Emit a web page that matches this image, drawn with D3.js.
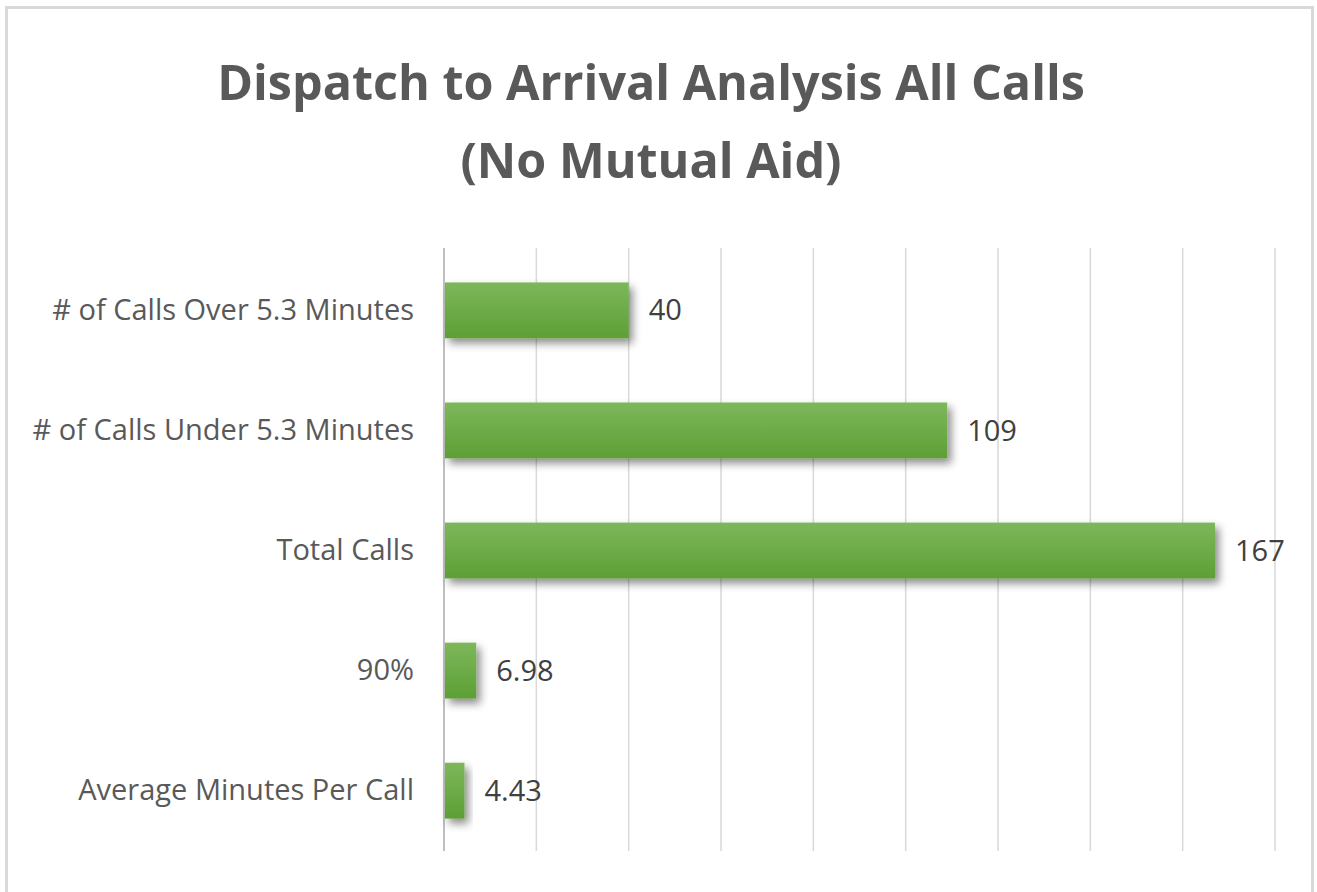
<!DOCTYPE html>
<html>
<head>
<meta charset="utf-8">
<script src="https://cdn.jsdelivr.net/npm/d3@7"></script>
<style>
    html, body { margin: 0; padding: 0; background: #fff; }
    svg { display: block; }
</style>
</head>
<body>
<svg id="chart" width="1317" height="892"></svg>
<script>
const categories = [
    '# of Calls Over 5.3 Minutes',
    '# of Calls Under 5.3 Minutes',
    'Total Calls',
    '90%',
    'Average Minutes Per Call'
];
const values = [40, 109, 167, 6.98, 4.43];
const valueLabels = ['40', '109', '167', '6.98', '4.43'];
const titleLines = ['Dispatch to Arrival Analysis All Calls', '(No Mutual Aid)'];
const xTicks = [0, 20, 40, 60, 80, 100, 120, 140, 160, 180];

const width = 1317;
const height = 892;
const margin = { top: 250, left: 444, right: 42, bottom: 41 };
const font = "'Open Sans', 'Noto Sans', sans-serif";

const svg = d3.select('#chart');

// chart frame
svg.append('rect')
    .attr('x', 6.5)
    .attr('y', 7.5)
    .attr('width', 1306)
    .attr('height', 900)
    .attr('fill', '#fff')
    .attr('stroke', '#d9d9d9')
    .attr('stroke-width', 3);

const defs = svg.append('defs');

const grad = defs.append('linearGradient')
    .attr('id', 'barFill')
    .attr('x1', 0).attr('y1', 0)
    .attr('x2', 0).attr('y2', 1);
grad.append('stop').attr('offset', '0%').attr('stop-color', '#7db75b');
grad.append('stop').attr('offset', '100%').attr('stop-color', '#5d9f35');

const shadow = defs.append('filter')
    .attr('id', 'shadow')
    .attr('x', '-20%').attr('y', '-30%')
    .attr('width', '160%').attr('height', '180%');
shadow.append('feDropShadow')
    .attr('dx', 4)
    .attr('dy', 5)
    .attr('stdDeviation', 4)
    .attr('flood-color', '#000')
    .attr('flood-opacity', 0.45);

const x = d3.scaleLinear()
    .domain([0, 180])
    .range([margin.left, width - margin.right]);

const y = d3.scaleBand()
    .domain(categories)
    .range([margin.top, height - margin.bottom])
    .paddingInner(0.535)
    .paddingOuter(0.27);

// gridlines
svg.append('g')
    .selectAll('line')
    .data(xTicks.slice(1))
    .join('line')
    .attr('x1', d => x(d))
    .attr('x2', d => x(d))
    .attr('y1', 248)
    .attr('y2', 851)
    .attr('stroke', '#d9d9d9')
    .attr('stroke-width', 1.5);

// value axis baseline
svg.append('line')
    .attr('x1', x(0))
    .attr('x2', x(0))
    .attr('y1', 248)
    .attr('y2', 851)
    .attr('stroke', '#bfbfbf')
    .attr('stroke-width', 2);

// title
svg.append('g')
    .selectAll('text')
    .data(titleLines)
    .join('text')
    .attr('x', 651)
    .attr('y', (d, i) => 100 + i * 78)
    .attr('text-anchor', 'middle')
    .attr('font-family', font)
    .attr('font-weight', 'bold')
    .attr('font-size', 48.5)
    .attr('fill', '#595959')
    .text(d => d);

// category labels
const yAxis = d3.axisLeft(y).tickSize(0).tickPadding(30);
svg.append('g')
    .attr('transform', `translate(${x(0)},0)`)
    .call(yAxis)
    .call(g => g.select('.domain').remove())
    .selectAll('text')
    .attr('font-family', font)
    .attr('font-size', 29)
    .attr('fill', '#595959');

// bars
svg.append('g')
    .selectAll('rect')
    .data(values)
    .join('rect')
    .attr('x', x(0) + 1)
    .attr('y', (d, i) => y(categories[i]))
    .attr('width', d => x(d) - x(0) - 1)
    .attr('height', y.bandwidth())
    .attr('fill', 'url(#barFill)')
    .attr('filter', 'url(#shadow)');

// value labels
svg.append('g')
    .selectAll('text')
    .data(values)
    .join('text')
    .attr('x', d => x(d) + 20)
    .attr('y', (d, i) => y(categories[i]) + y.bandwidth() / 2)
    .attr('dy', '0.35em')
    .attr('font-family', font)
    .attr('font-size', 29)
    .attr('fill', '#404040')
    .text((d, i) => valueLabels[i]);
</script>
</body>
</html>
